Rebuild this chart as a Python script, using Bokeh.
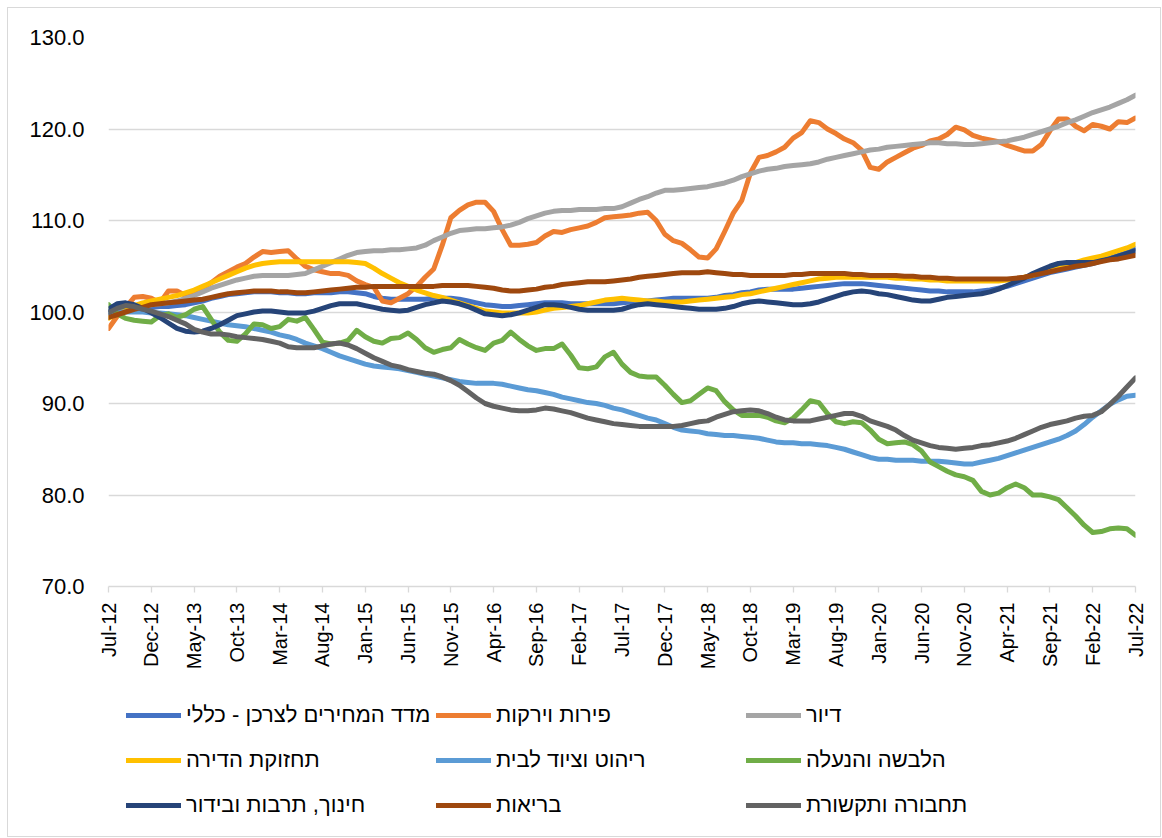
import math
from bokeh.plotting import figure
from bokeh.layouts import column
from bokeh.models import Range1d, FixedTicker, Legend, LegendItem, NumeralTickFormatter
from bokeh.embed import file_html
from bokeh.resources import INLINE

# ---------------- data ----------------
months = list(range(121))  # Jul-12 .. Jul-22, monthly
tick_labels = ["Jul-12", "Dec-12", "May-13", "Oct-13", "Mar-14", "Aug-14", "Jan-15",
               "Jun-15", "Nov-15", "Apr-16", "Sep-16", "Feb-17", "Jul-17", "Dec-17",
               "May-18", "Oct-18", "Mar-19", "Aug-19", "Jan-20", "Jun-20", "Nov-20",
               "Apr-21", "Sep-21", "Feb-22", "Jul-22"]

general = [100.0, 100.1, 100.3, 100.4, 100.5, 100.5, 100.6, 100.6, 100.7, 100.8,
           101.0, 101.2, 101.5, 101.7, 101.9, 102.0, 102.1, 102.2, 102.2, 102.2,
           102.1, 102.1, 102.0, 102.0, 102.1, 102.1, 102.1, 102.2, 102.2, 102.1,
           102.0, 101.7, 101.5, 101.4, 101.4, 101.4, 101.4, 101.4, 101.5, 101.5,
           101.5, 101.4, 101.2, 101.0, 100.8, 100.7, 100.6, 100.6, 100.7, 100.8,
           100.9, 101.0, 101.0, 101.0, 100.9, 100.9, 100.9, 100.9, 100.9, 100.9,
           101.0, 101.1, 101.2, 101.2, 101.3, 101.4, 101.5, 101.5, 101.5, 101.5,
           101.5, 101.6, 101.8, 101.9, 102.1, 102.2, 102.4, 102.5, 102.5, 102.5,
           102.5, 102.6, 102.7, 102.8, 102.9, 103.0, 103.1, 103.1, 103.1, 103.0,
           102.9, 102.8, 102.7, 102.6, 102.5, 102.4, 102.3, 102.3, 102.2, 102.2,
           102.2, 102.2, 102.3, 102.4, 102.6, 102.8, 103.1, 103.4, 103.7, 104.0,
           104.3, 104.5, 104.7, 104.9, 105.1, 105.3, 105.6, 105.9, 106.2, 106.5,
           106.9]

fruits_veg = [98.2, 99.5, 100.5, 101.6, 101.7, 101.5, 101.0, 102.3, 102.3, 101.8,
              102.0, 102.6, 103.2, 103.9, 104.4, 104.9, 105.3, 106.0, 106.6, 106.5,
              106.6, 106.7, 105.8, 105.0, 104.6, 104.4, 104.2, 104.2, 104.0, 103.4,
              103.0, 102.7, 101.2, 101.0, 101.5, 102.0, 102.8, 103.8, 104.7, 107.3,
              110.3, 111.1, 111.7, 112.0, 112.0, 111.0, 109.0, 107.3, 107.3, 107.4,
              107.6, 108.3, 108.8, 108.7, 109.0, 109.2, 109.4, 109.8, 110.3, 110.4,
              110.5, 110.6, 110.8, 110.9, 110.0, 108.5, 107.8, 107.5, 106.8, 106.0,
              105.9, 106.9, 108.8, 110.8, 112.2, 115.2, 116.9, 117.1, 117.5, 118.0,
              119.0, 119.6, 120.9, 120.7, 120.0, 119.5, 118.9, 118.5, 117.7, 115.8,
              115.6, 116.4, 116.9, 117.4, 117.9, 118.2, 118.7, 118.9, 119.4, 120.2,
              119.9, 119.3, 119.0, 118.8, 118.6, 118.2, 117.9, 117.6, 117.6, 118.3,
              119.8, 121.1, 121.1, 120.3, 119.8, 120.5, 120.3, 120.0, 120.8, 120.7,
              121.2]

housing = [100.0, 100.2, 100.4, 100.6, 100.7, 100.8, 100.9, 101.0, 101.2, 101.5,
           101.8, 102.2, 102.6, 102.9, 103.2, 103.5, 103.7, 103.9, 104.0, 104.0,
           104.0, 104.0, 104.1, 104.2, 104.6, 105.0, 105.4, 105.8, 106.2, 106.5,
           106.6, 106.7, 106.7, 106.8, 106.8, 106.9, 107.0, 107.3, 107.8, 108.2,
           108.6, 108.9, 109.0, 109.1, 109.1, 109.2, 109.3, 109.5, 109.8, 110.2,
           110.5, 110.8, 111.0, 111.1, 111.1, 111.2, 111.2, 111.2, 111.3, 111.3,
           111.5, 111.9, 112.3, 112.6, 113.0, 113.3, 113.3, 113.4, 113.5, 113.6,
           113.7, 113.9, 114.1, 114.4, 114.8, 115.1, 115.4, 115.6, 115.7, 115.9,
           116.0, 116.1, 116.2, 116.4, 116.7, 116.9, 117.1, 117.3, 117.5, 117.7,
           117.8, 118.0, 118.1, 118.2, 118.3, 118.4, 118.5, 118.5, 118.4, 118.4,
           118.3, 118.3, 118.4, 118.5, 118.6, 118.7, 118.9, 119.1, 119.4, 119.7,
           120.0, 120.3, 120.7, 121.0, 121.4, 121.8, 122.1, 122.4, 122.8, 123.2,
           123.7]

maintenance = [99.3, 99.8, 100.2, 100.7, 101.0, 101.2, 101.4, 101.6, 101.8, 102.1,
               102.4, 102.8, 103.2, 103.6, 104.0, 104.4, 104.8, 105.1, 105.3, 105.4,
               105.5, 105.5, 105.5, 105.5, 105.5, 105.5, 105.5, 105.5, 105.5, 105.4,
               105.3, 104.8, 104.2, 103.7, 103.2, 102.8, 102.4, 102.1, 101.8, 101.6,
               101.3, 101.0, 100.7, 100.4, 100.1, 100.0, 99.9, 99.9, 99.9, 99.9,
               100.0, 100.2, 100.4, 100.5, 100.6, 100.7, 100.9, 101.1, 101.3, 101.4,
               101.5, 101.4, 101.3, 101.2, 101.2, 101.1, 101.1, 101.1, 101.2, 101.3,
               101.4, 101.5, 101.6, 101.7, 101.9, 102.0, 102.2, 102.4, 102.6, 102.8,
               103.0, 103.2, 103.4, 103.6, 103.7, 103.8, 103.8, 103.8, 103.8, 103.8,
               103.8, 103.8, 103.7, 103.7, 103.6, 103.6, 103.5, 103.5, 103.4, 103.4,
               103.4, 103.4, 103.4, 103.4, 103.4, 103.5, 103.6, 103.8, 104.0, 104.3,
               104.6, 104.9, 105.2, 105.4, 105.7, 105.9, 106.1, 106.4, 106.7, 107.0,
               107.4]

furniture = [100.0, 100.0, 100.0, 100.0, 100.0, 99.9, 99.9, 99.8, 99.7, 99.6,
             99.4, 99.2, 99.0, 98.8, 98.6, 98.5, 98.4, 98.2, 98.0, 97.8,
             97.5, 97.3, 97.0, 96.6, 96.3, 96.0, 95.6, 95.2, 94.9, 94.6,
             94.3, 94.1, 94.0, 93.9, 93.8, 93.6, 93.4, 93.2, 93.0, 92.8,
             92.6, 92.4, 92.3, 92.2, 92.2, 92.2, 92.1, 91.9, 91.7, 91.5,
             91.4, 91.2, 91.0, 90.7, 90.5, 90.3, 90.1, 90.0, 89.8, 89.5,
             89.3, 89.0, 88.7, 88.4, 88.2, 87.8, 87.4, 87.1, 87.0, 86.9,
             86.7, 86.6, 86.5, 86.5, 86.4, 86.3, 86.2, 86.0, 85.8, 85.7,
             85.7, 85.6, 85.6, 85.5, 85.4, 85.2, 85.0, 84.7, 84.4, 84.1,
             83.9, 83.9, 83.8, 83.8, 83.8, 83.7, 83.7, 83.7, 83.6, 83.5,
             83.4, 83.4, 83.6, 83.8, 84.0, 84.3, 84.6, 84.9, 85.2, 85.5,
             85.8, 86.1, 86.5, 87.0, 87.7, 88.5, 89.2, 89.9, 90.4, 90.8,
             90.9]

clothing = [100.8, 99.8, 99.3, 99.1, 99.0, 98.9, 99.6, 99.8, 99.4, 99.7,
            100.3, 100.6, 99.2, 97.8, 96.9, 96.8, 97.6, 98.7, 98.6, 98.2,
            98.4, 99.2, 99.0, 99.4, 98.1, 96.7, 96.5, 96.6, 96.9, 98.0,
            97.3, 96.8, 96.6, 97.1, 97.2, 97.7, 97.0, 96.1, 95.6, 95.9,
            96.1, 97.0, 96.5, 96.1, 95.8, 96.6, 96.9, 97.8, 97.0, 96.3,
            95.8, 96.0, 96.0, 96.5, 95.3, 93.9, 93.8, 94.0, 95.1, 95.6,
            94.3, 93.4, 93.0, 92.9, 92.9, 92.0, 91.0, 90.1, 90.3, 91.0,
            91.7, 91.4, 90.2, 89.3, 88.7, 88.7, 88.7, 88.5, 88.1, 87.9,
            88.4, 89.3, 90.3, 90.1, 88.9, 88.0, 87.8, 88.0, 87.9, 87.1,
            86.1, 85.6, 85.7, 85.8, 85.5, 84.8, 83.6, 83.1, 82.6, 82.2,
            82.0, 81.6, 80.4, 80.0, 80.2, 80.8, 81.2, 80.8, 80.0, 80.0,
            79.8, 79.5, 78.6, 77.7, 76.7, 75.9, 76.0, 76.3, 76.4, 76.3,
            75.6]

education = [100.3, 100.9, 101.0, 100.8, 100.4, 99.9, 99.4, 98.8, 98.2, 97.9,
             97.8, 97.9, 98.2, 98.6, 99.1, 99.6, 99.8, 100.0, 100.1, 100.1,
             100.0, 99.9, 99.9, 99.9, 100.1, 100.4, 100.7, 100.9, 100.9, 100.9,
             100.7, 100.5, 100.3, 100.2, 100.1, 100.2, 100.5, 100.8, 101.0, 101.2,
             101.1, 100.9, 100.6, 100.2, 99.8, 99.7, 99.6, 99.7, 99.9, 100.2,
             100.5, 100.8, 100.8, 100.7, 100.5, 100.3, 100.2, 100.2, 100.2, 100.2,
             100.3, 100.6, 100.8, 100.9, 100.8, 100.7, 100.6, 100.5, 100.4, 100.3,
             100.3, 100.3, 100.4, 100.6, 100.9, 101.1, 101.2, 101.1, 101.0, 100.9,
             100.8, 100.8, 100.9, 101.1, 101.4, 101.7, 102.0, 102.2, 102.3, 102.2,
             102.0, 101.9, 101.7, 101.5, 101.3, 101.2, 101.2, 101.4, 101.6, 101.7,
             101.8, 101.9, 102.0, 102.2, 102.5, 102.9, 103.3, 103.7, 104.2, 104.6,
             105.0, 105.3, 105.4, 105.4, 105.4, 105.4, 105.6, 105.8, 106.1, 106.4,
             106.7]

health = [99.4, 99.7, 100.0, 100.3, 100.5, 100.8, 100.9, 101.0, 101.1, 101.2,
          101.3, 101.4, 101.6, 101.8, 102.0, 102.1, 102.2, 102.3, 102.3, 102.3,
          102.2, 102.2, 102.1, 102.1, 102.2, 102.3, 102.4, 102.5, 102.6, 102.7,
          102.7, 102.8, 102.8, 102.8, 102.8, 102.8, 102.8, 102.8, 102.8, 102.9,
          102.9, 102.9, 102.9, 102.8, 102.7, 102.6, 102.4, 102.3, 102.3, 102.4,
          102.5, 102.7, 102.8, 103.0, 103.1, 103.2, 103.3, 103.3, 103.3, 103.4,
          103.5, 103.6, 103.8, 103.9, 104.0, 104.1, 104.2, 104.3, 104.3, 104.3,
          104.4, 104.3, 104.2, 104.1, 104.1, 104.0, 104.0, 104.0, 104.0, 104.0,
          104.1, 104.1, 104.2, 104.2, 104.2, 104.2, 104.2, 104.1, 104.1, 104.0,
          104.0, 104.0, 104.0, 103.9, 103.9, 103.8, 103.8, 103.7, 103.7, 103.6,
          103.6, 103.6, 103.6, 103.6, 103.6, 103.6, 103.7, 103.8, 104.0, 104.2,
          104.4, 104.6, 104.8, 105.0, 105.1, 105.3, 105.5, 105.7, 105.8, 106.0,
          106.2]

transport = [99.9, 100.4, 100.7, 100.6, 100.3, 100.1, 99.8, 99.5, 99.1, 98.7,
             98.1, 97.8, 97.6, 97.6, 97.5, 97.3, 97.2, 97.1, 97.0, 96.8,
             96.6, 96.2, 96.1, 96.1, 96.1, 96.3, 96.5, 96.6, 96.4, 96.0,
             95.5, 95.0, 94.6, 94.2, 94.0, 93.7, 93.5, 93.3, 93.2, 92.9,
             92.5, 92.0, 91.3, 90.6, 90.0, 89.7, 89.5, 89.3, 89.2, 89.2,
             89.3, 89.5, 89.4, 89.2, 89.0, 88.7, 88.4, 88.2, 88.0, 87.8,
             87.7, 87.6, 87.5, 87.5, 87.5, 87.5, 87.5, 87.6, 87.8, 88.0,
             88.1, 88.5, 88.8, 89.1, 89.2, 89.3, 89.2, 88.9, 88.5, 88.2,
             88.1, 88.1, 88.1, 88.3, 88.5, 88.7, 88.9, 88.9, 88.6, 88.1,
             87.8, 87.5, 87.1, 86.5, 86.0, 85.7, 85.4, 85.2, 85.1, 85.0,
             85.1, 85.2, 85.4, 85.5, 85.7, 85.9, 86.2, 86.6, 87.0, 87.4,
             87.7, 87.9, 88.1, 88.4, 88.6, 88.7, 89.1, 89.9, 90.8, 91.8,
             92.8]

series_names = ["מדד המחירים לצרכן - כללי", "פירות וירקות", "דיור",
                "תחזוקת הדירה", "ריהוט וציוד לבית", "הלבשה והנעלה",
                "חינוך, תרבות ובידור", "בריאות", "תחבורה ותקשורת"]
series_values = [general, fruits_veg, housing, maintenance, furniture, clothing,
                 education, health, transport]
series_colors = ["#4472C4", "#ED7D31", "#A5A5A5", "#FFC000", "#5B9BD5", "#70AD47",
                 "#264478", "#9E480E", "#636363"]

# ---------------- main figure ----------------
FONT = "Liberation Sans"
LW = 5
W = 1152
p = figure(width=W, height=670, output_backend="svg", toolbar_location=None,
           x_range=Range1d(0, 120), y_range=Range1d(70, 130),
           min_border_left=100, min_border_right=25, min_border_top=29,
           min_border_bottom=92)
p.outline_line_color = None
p.background_fill_color = "white"
p.border_fill_color = "white"

for vals, col in zip(series_values, series_colors):
    p.line(months, vals, line_color=col, line_width=LW,
           line_join="round", line_cap="round")

p.xaxis.ticker = FixedTicker(ticks=months[::5])
p.xaxis.major_label_overrides = {m: lab for m, lab in zip(months[::5], tick_labels)}
p.xaxis.major_label_orientation = math.pi / 2
p.xaxis.axis_line_color = "#D9D9D9"
p.xaxis.axis_line_width = 1.3
p.xaxis.major_tick_line_color = "#D9D9D9"
p.xaxis.major_tick_line_width = 1.3
p.xaxis.major_tick_out = 6
p.xaxis.major_tick_in = 0
p.xaxis.minor_tick_line_color = None
p.xaxis.major_label_standoff = 10
p.xaxis.major_label_text_font = FONT
p.xaxis.major_label_text_font_size = "20px"
p.xaxis.major_label_text_color = "#000000"

p.yaxis.ticker = FixedTicker(ticks=[70, 80, 90, 100, 110, 120, 130])
p.yaxis.formatter = NumeralTickFormatter(format="0.0")
p.yaxis.axis_line_color = None
p.yaxis.major_tick_line_color = None
p.yaxis.minor_tick_line_color = None
p.yaxis.major_label_standoff = 18
p.yaxis.major_label_text_font = FONT
p.yaxis.major_label_text_font_size = "22px"
p.yaxis.major_label_text_color = "#000000"

p.xgrid.grid_line_color = None
p.ygrid.ticker = FixedTicker(ticks=[80, 90, 100, 110, 120, 130])
p.ygrid.grid_line_color = "#D9D9D9"
p.ygrid.grid_line_width = 1.3

# ---------------- legend strip ----------------
# the legend strip re-uses the series (they fall outside its 0..1 y-range,
# so only their legend glyphs are visible)
lf = figure(width=W, height=158, output_backend="svg", toolbar_location=None,
            x_axis_type=None, y_axis_type=None, x_range=Range1d(0, 120),
            y_range=Range1d(0, 1), min_border=0)
lf.outline_line_color = None
lf.background_fill_color = "white"
lf.border_fill_color = "white"

items = []
for name, vals, col in zip(series_names, series_values, series_colors):
    r = lf.line(months, vals, line_color=col, line_width=LW, line_cap="round")
    items.append(LegendItem(label=name, renderers=[r]))

legend = Legend(items=items, orientation="horizontal", ncols=3,
                location=(18, 11), padding=0, margin=0,
                glyph_width=55, glyph_height=20, label_standoff=5,
                label_width=245, label_height=40, spacing=5,
                label_text_font=FONT, label_text_font_size="22px",
                label_text_color="#000000",
                border_line_color=None, background_fill_alpha=0)
lf.add_layout(legend, "center")

layout = column(p, lf, spacing=0,
                styles={"border": "1px solid #D9D9D9", "margin": "7px 0 0 7px"})

open("out.html", "w").write(file_html(layout, INLINE))
